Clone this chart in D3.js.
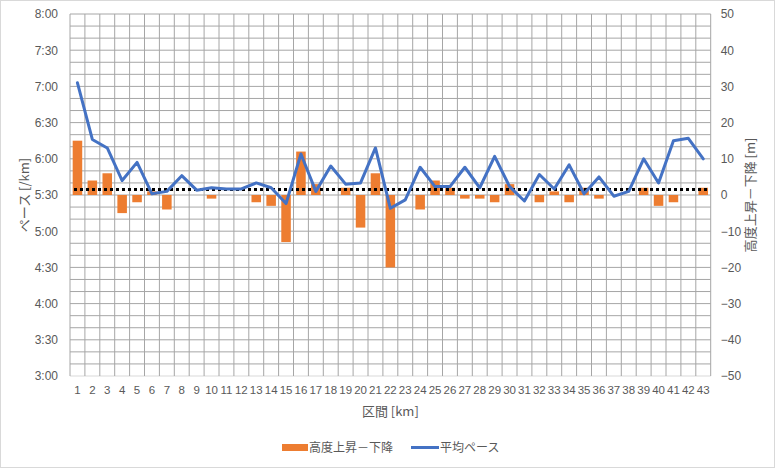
<!DOCTYPE html>
<html><head><meta charset="utf-8">
<script src="https://cdn.jsdelivr.net/npm/d3@7"></script>
<style>
html,body{margin:0;padding:0;background:#fff;}
text{font-family:"Liberation Sans","Noto Sans CJK JP",sans-serif;}
.jp{font-family:"Noto Sans CJK JP","Liberation Sans",sans-serif;}
</style></head>
<body>
<svg id="c" width="775" height="468"></svg>
<script>
const categories = d3.range(1, 44).map(String);
const elevation = [15,4,6,-5,-2,1,-4,0,0,-1,0,0,-2,-3,-13,12,3,0,2,-9,6,-20,0,-4,4,2,-1,-1,-2,3,0,-2,1,-2,2,-1,0,0,2,-3,-2,0,2];
const pace = ["7:03","6:16","6:09","5:42","5:57","5:31","5:33","5:46","5:34","5:36","5:35","5:35","5:40","5:36","5:23","6:04","5:33","5:54","5:39","5:40","6:09","5:19","5:26","5:53","5:37","5:37","5:53","5:36","6:02","5:37","5:25","5:47","5:35","5:55","5:31","5:45","5:29","5:33","6:00","5:40","6:15","6:17","6:00"];
const refPace = "5:34.5";
const leftTicks = ["3:00","3:30","4:00","4:30","5:00","5:30","6:00","6:30","7:00","7:30","8:00"];
const rightTicks = [-50,-40,-30,-20,-10,0,10,20,30,40,50];
const seriesNames = ["高度上昇－下降","平均ペース"];
const titles = {x:"区間 [km]", yLeft:"ペース [/km]", yRight:"高度上昇－下降 [m]"};

const toSec = s => { const [m, r] = s.split(":"); return (+m) * 60 + parseFloat(r); };
const fmt = v => Math.floor(v / 60) + ":" + String(Math.round(v % 60)).padStart(2, "0");

const svg = d3.select("#c");
const L = 70, R = 710.7, T = 14, B = 376;
const textCol = "#595959", gridCol = "#a6a6a6";

svg.append("rect").attr("x",0.5).attr("y",0.5).attr("width",774).attr("height",467)
  .attr("fill","#fff").attr("stroke","#d9d9d9");

const x = d3.scaleBand().domain(categories).range([L, R]).padding(0);
const yL = d3.scaleLinear().domain([toSec(leftTicks[0]), toSec(leftTicks[leftTicks.length-1])]).range([B, T]);
const yR = d3.scaleLinear().domain([rightTicks[0], rightTicks[rightTicks.length-1]]).range([B, T]);

// grid
const g = svg.append("g");
const hVals = d3.range(yL.domain()[0], yL.domain()[1] + 1, 10);
g.selectAll("line.h").data(hVals).join("line")
  .attr("x1", L).attr("x2", R)
  .attr("y1", d => yL(d)).attr("y2", d => yL(d))
  .attr("stroke", (d,i) => i === 0 ? "#d9d9d9" : gridCol).attr("stroke-width", 1);
const vVals = categories.map(c => x(c)).concat([R]);
g.selectAll("line.v").data(vVals).join("line")
  .attr("x1", d => d).attr("x2", d => d)
  .attr("y1", T).attr("y2", B)
  .attr("stroke", gridCol).attr("stroke-width", 1);

// bars
const bw = x.bandwidth() * 0.64;
svg.append("g").selectAll("rect").data(elevation.map((v,i)=>({c:categories[i], v})))
  .join("rect")
  .attr("x", d => x(d.c) + (x.bandwidth() - bw) / 2)
  .attr("width", bw)
  .attr("y", d => yR(Math.max(0, d.v)))
  .attr("height", d => Math.abs(yR(d.v) - yR(0)))
  .attr("fill", "#ED7D31");

// reference dotted line
svg.append("line")
  .attr("x1", L + 4).attr("x2", R - 1.5)
  .attr("y1", yL(toSec(refPace))).attr("y2", yL(toSec(refPace)))
  .attr("stroke", "#000").attr("stroke-width", 3).attr("stroke-dasharray", "3,3");

// pace line
const line = d3.line().x((d,i) => x(categories[i]) + x.bandwidth()/2).y(d => yL(toSec(d)));
svg.append("path").datum(pace).attr("d", line)
  .attr("fill", "none").attr("stroke", "#4472C4").attr("stroke-width", 3)
  .attr("stroke-linejoin", "round").attr("stroke-linecap", "round");

// left axis labels
const axL = d3.axisLeft(yL).tickValues(leftTicks.map(toSec)).tickFormat(fmt).tickSize(0).tickPadding(12);
const gL = svg.append("g").attr("transform", `translate(${L},0)`).call(axL);
gL.select(".domain").remove();
gL.selectAll("text").attr("fill", textCol).attr("font-size", 12).attr("font-family", "Liberation Sans");

// right axis labels
const axR = d3.axisRight(yR).tickValues(rightTicks).tickSize(0).tickPadding(10);
const gR = svg.append("g").attr("transform", `translate(${R},0)`).call(axR);
gR.select(".domain").remove();
gR.selectAll("text").attr("fill", textCol).attr("font-size", 12).attr("font-family", "Liberation Sans");

// x axis labels
const axX = d3.axisBottom(x).tickSize(0).tickPadding(10);
const gX = svg.append("g").attr("transform", `translate(0,${B})`).call(axX);
gX.select(".domain").remove();
gX.selectAll("text").attr("fill", textCol).attr("font-size", 11.5).attr("font-family", "Liberation Sans");

// titles
svg.append("text").attr("class","jp").attr("x", (L+R)/2).attr("y", 416).attr("text-anchor","middle")
  .attr("fill", textCol).attr("font-size", 13).text(titles.x);
svg.append("text").attr("class","jp").attr("transform", `translate(29,${(T+B)/2}) rotate(-90)`)
  .attr("text-anchor","middle").attr("fill", textCol).attr("font-size", 13).text(titles.yLeft);
svg.append("text").attr("class","jp").attr("transform", `translate(755,${(T+B)/2}) rotate(-90)`)
  .attr("text-anchor","middle").attr("fill", textCol).attr("font-size", 13).text(titles.yRight);

// legend
const lg = svg.append("g");
lg.append("rect").attr("x", 282).attr("y", 444).attr("width", 26).attr("height", 7).attr("fill", "#ED7D31");
lg.append("text").attr("class","jp").attr("x", 309).attr("y", 452).attr("fill", textCol).attr("font-size", 12).text(seriesNames[0]);
lg.append("line").attr("x1", 411).attr("x2", 439).attr("y1", 447.5).attr("y2", 447.5).attr("stroke", "#4472C4").attr("stroke-width", 3);
lg.append("text").attr("class","jp").attr("x", 440).attr("y", 452).attr("fill", textCol).attr("font-size", 12).text(seriesNames[1]);
</script>
</body></html>
